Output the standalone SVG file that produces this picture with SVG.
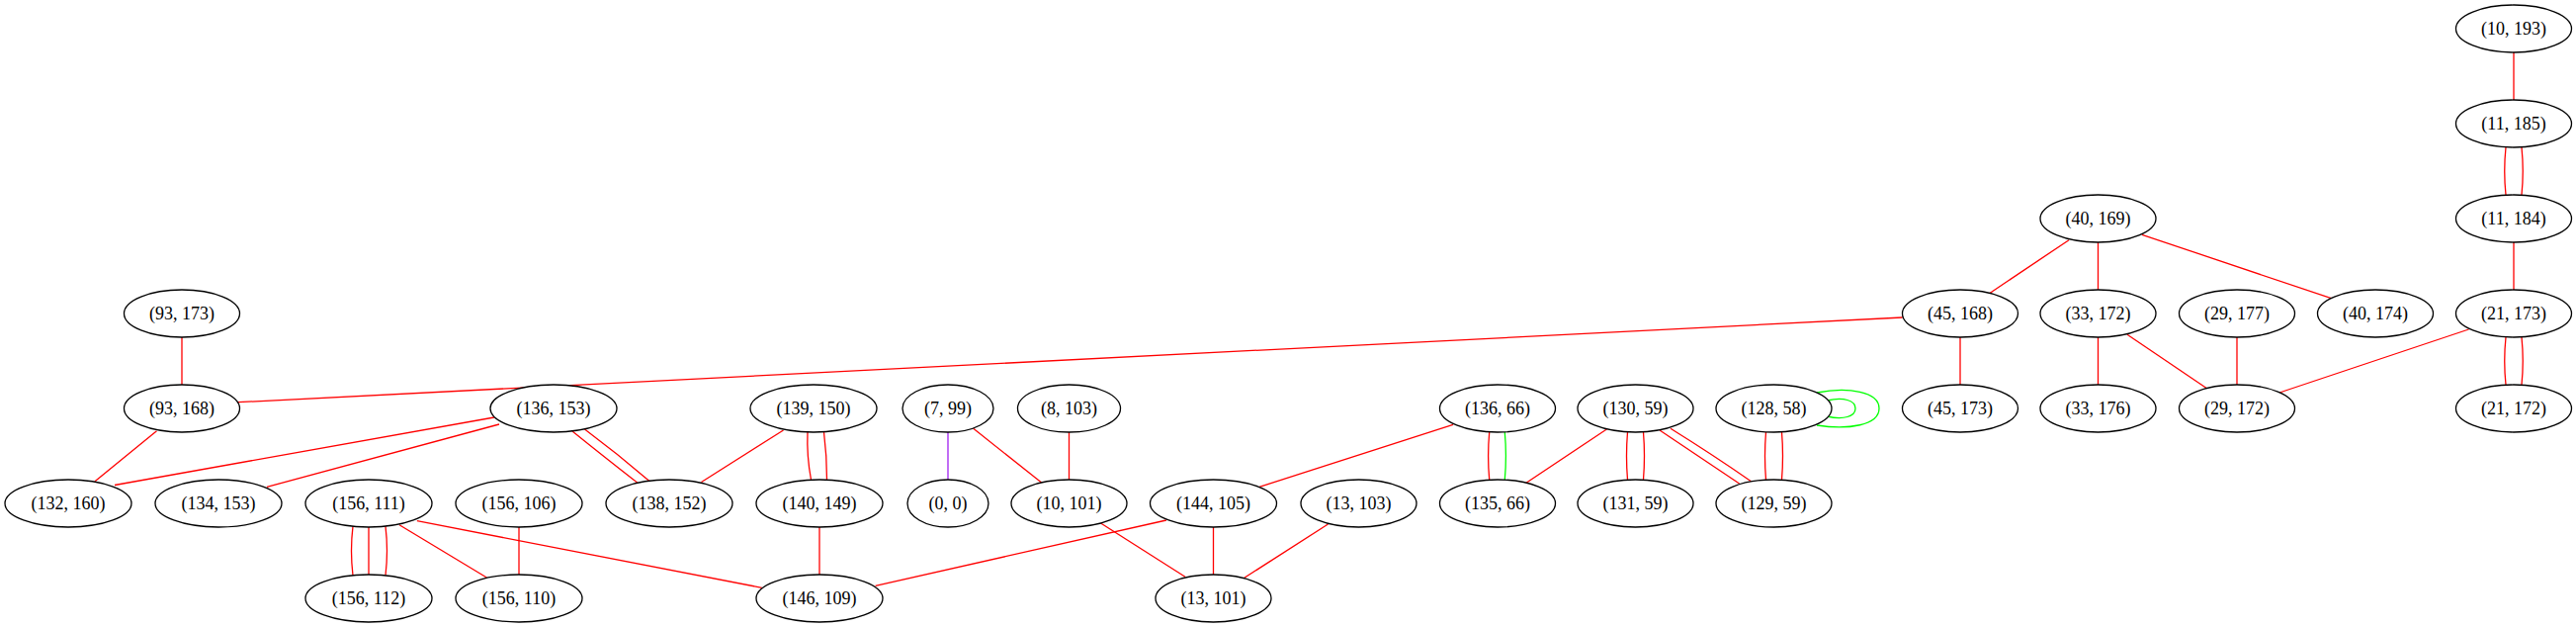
<svg xmlns="http://www.w3.org/2000/svg" width="2606" height="635" viewBox="0 0 2606 635">
<style>
.n ellipse{fill:#fff;stroke:#000;stroke-width:1.3}
.n text{font-family:"Liberation Serif","Times New Roman",serif;font-size:18px;text-anchor:middle;fill:#000}
#edges path{fill:none;stroke-width:1.3}
.r{stroke:#ff0000}
.g{stroke:#00ff00}
.p{stroke:#a020f0}
</style>
<rect width="2606" height="635" fill="#fff"/>
<g id="edges">
<path class="r" d="M2543,53V101"/>
<path class="r" d="M2535,149Q2532.5,173 2535,197"/>
<path class="r" d="M2551,149Q2553.5,173 2551,197"/>
<path class="r" d="M2543,245V293"/>
<path class="r" d="M2535,341Q2532.5,365 2535,389"/>
<path class="r" d="M2551,341Q2553.5,365 2551,389"/>
<path class="r" d="M2497.5,333L2306,397"/>
<path class="r" d="M2093,242.7L2012.5,296.7"/>
<path class="r" d="M2122.5,245V293"/>
<path class="r" d="M2167,237.3L2358.5,301.7"/>
<path class="r" d="M2122.5,341V389"/>
<path class="r" d="M2152,338.3L2232.6,392.7"/>
<path class="r" d="M2263,341V389"/>
<path class="r" d="M1983,341V389"/>
<path class="r" d="M1924.6,321L241,406.7"/>
<path class="r" d="M184,341V389"/>
<path class="r" d="M158.5,435.7L96,486.7"/>
<path class="r" d="M500,422L116,490.5"/>
<path class="r" d="M505,429L270,492.3"/>
<path class="r" d="M579,436Q610,461 645,488.3"/>
<path class="r" d="M591.5,434Q625,459 657.3,486.7"/>
<path class="r" d="M792.5,435L709.5,487.5"/>
<path class="r" d="M817,437Q816,461 820.5,485"/>
<path class="r" d="M833.5,437Q836.5,461 836.5,485"/>
<path class="r" d="M829,533V581"/>
<path class="p" d="M959,437V485"/>
<path class="r" d="M984.7,433.3L1054,488.3"/>
<path class="r" d="M1081.5,437V485"/>
<path class="r" d="M1112.4,528.3L1199,583.3"/>
<path class="r" d="M1227.5,533V581"/>
<path class="r" d="M1343.5,530L1258.8,584.3"/>
<path class="r" d="M1179.9,526L885.6,592.3"/>
<path class="r" d="M1470,429.3L1274,492.3"/>
<path class="r" d="M1506.7,437Q1504.5,461 1506.7,485"/>
<path class="g" d="M1522.3,437Q1524.5,461 1522.3,485"/>
<path class="r" d="M1625.4,434L1544,488.3"/>
<path class="r" d="M1646.5,437Q1644.5,461 1646.5,485"/>
<path class="r" d="M1662.5,437Q1664.5,461 1662.5,485"/>
<path class="r" d="M1679,435L1759.6,489"/>
<path class="r" d="M1690,433.3Q1733,460 1771.5,486.8"/>
<path class="r" d="M1786.5,437Q1784.5,461 1786.5,485"/>
<path class="r" d="M1802.5,437Q1804.5,461 1802.5,485"/>
<path class="g" d="M1838,397C1870,391 1901,396 1901,413C1901,430 1870,435 1838,430"/>
<path class="g" d="M1848.5,405C1865,401 1877,405 1877,413C1877,421 1865,425 1848.5,421"/>
<path class="r" d="M357,532.2Q354,557 357,581.8"/>
<path class="r" d="M373,533V581"/>
<path class="r" d="M390,532.2Q393,557 390,581.8"/>
<path class="r" d="M404,530.7L492.4,584"/>
<path class="r" d="M525,533V581"/>
<path class="r" d="M421.9,526.7L770.8,594.3"/>
</g>
<g id="n_10_193" class="n"><ellipse cx="2543" cy="29" rx="58.5" ry="24"/><text x="2543" y="35">(10, 193)</text></g>
<g id="n_11_185" class="n"><ellipse cx="2543" cy="125" rx="58.5" ry="24"/><text x="2543" y="131">(11, 185)</text></g>
<g id="n_40_169" class="n"><ellipse cx="2122.5" cy="221" rx="58.5" ry="24"/><text x="2122.5" y="227">(40, 169)</text></g>
<g id="n_11_184" class="n"><ellipse cx="2543" cy="221" rx="58.5" ry="24"/><text x="2543" y="227">(11, 184)</text></g>
<g id="n_93_173" class="n"><ellipse cx="184" cy="317" rx="58.5" ry="24"/><text x="184" y="323">(93, 173)</text></g>
<g id="n_45_168" class="n"><ellipse cx="1983" cy="317" rx="58.5" ry="24"/><text x="1983" y="323">(45, 168)</text></g>
<g id="n_33_172" class="n"><ellipse cx="2122.5" cy="317" rx="58.5" ry="24"/><text x="2122.5" y="323">(33, 172)</text></g>
<g id="n_29_177" class="n"><ellipse cx="2263" cy="317" rx="58.5" ry="24"/><text x="2263" y="323">(29, 177)</text></g>
<g id="n_40_174" class="n"><ellipse cx="2403" cy="317" rx="58.5" ry="24"/><text x="2403" y="323">(40, 174)</text></g>
<g id="n_21_173" class="n"><ellipse cx="2543" cy="317" rx="58.5" ry="24"/><text x="2543" y="323">(21, 173)</text></g>
<g id="n_93_168" class="n"><ellipse cx="184" cy="413" rx="58.5" ry="24"/><text x="184" y="419">(93, 168)</text></g>
<g id="n_136_153" class="n"><ellipse cx="560" cy="413" rx="64" ry="24"/><text x="560" y="419">(136, 153)</text></g>
<g id="n_139_150" class="n"><ellipse cx="823" cy="413" rx="64" ry="24"/><text x="823" y="419">(139, 150)</text></g>
<g id="n_7_99" class="n"><ellipse cx="959" cy="413" rx="46" ry="24"/><text x="959" y="419">(7, 99)</text></g>
<g id="n_8_103" class="n"><ellipse cx="1081.5" cy="413" rx="52" ry="24"/><text x="1081.5" y="419">(8, 103)</text></g>
<g id="n_136_66" class="n"><ellipse cx="1515" cy="413" rx="58.5" ry="24"/><text x="1515" y="419">(136, 66)</text></g>
<g id="n_130_59" class="n"><ellipse cx="1654.5" cy="413" rx="58.5" ry="24"/><text x="1654.5" y="419">(130, 59)</text></g>
<g id="n_128_58" class="n"><ellipse cx="1794.5" cy="413" rx="58.5" ry="24"/><text x="1794.5" y="419">(128, 58)</text></g>
<g id="n_45_173" class="n"><ellipse cx="1983" cy="413" rx="58.5" ry="24"/><text x="1983" y="419">(45, 173)</text></g>
<g id="n_33_176" class="n"><ellipse cx="2122.5" cy="413" rx="58.5" ry="24"/><text x="2122.5" y="419">(33, 176)</text></g>
<g id="n_29_172" class="n"><ellipse cx="2263" cy="413" rx="58.5" ry="24"/><text x="2263" y="419">(29, 172)</text></g>
<g id="n_21_172" class="n"><ellipse cx="2543" cy="413" rx="58.5" ry="24"/><text x="2543" y="419">(21, 172)</text></g>
<g id="n_132_160" class="n"><ellipse cx="69" cy="509" rx="64" ry="24"/><text x="69" y="515">(132, 160)</text></g>
<g id="n_134_153" class="n"><ellipse cx="221" cy="509" rx="64" ry="24"/><text x="221" y="515">(134, 153)</text></g>
<g id="n_156_111" class="n"><ellipse cx="373" cy="509" rx="64" ry="24"/><text x="373" y="515">(156, 111)</text></g>
<g id="n_156_106" class="n"><ellipse cx="525" cy="509" rx="64" ry="24"/><text x="525" y="515">(156, 106)</text></g>
<g id="n_138_152" class="n"><ellipse cx="677" cy="509" rx="64" ry="24"/><text x="677" y="515">(138, 152)</text></g>
<g id="n_140_149" class="n"><ellipse cx="829" cy="509" rx="64" ry="24"/><text x="829" y="515">(140, 149)</text></g>
<g id="n_0_0" class="n"><ellipse cx="959" cy="509" rx="41" ry="24"/><text x="959" y="515">(0, 0)</text></g>
<g id="n_10_101" class="n"><ellipse cx="1081.5" cy="509" rx="58.5" ry="24"/><text x="1081.5" y="515">(10, 101)</text></g>
<g id="n_144_105" class="n"><ellipse cx="1227.5" cy="509" rx="64" ry="24"/><text x="1227.5" y="515">(144, 105)</text></g>
<g id="n_13_103" class="n"><ellipse cx="1374.5" cy="509" rx="58.5" ry="24"/><text x="1374.5" y="515">(13, 103)</text></g>
<g id="n_135_66" class="n"><ellipse cx="1515" cy="509" rx="58.5" ry="24"/><text x="1515" y="515">(135, 66)</text></g>
<g id="n_131_59" class="n"><ellipse cx="1654.5" cy="509" rx="58.5" ry="24"/><text x="1654.5" y="515">(131, 59)</text></g>
<g id="n_129_59" class="n"><ellipse cx="1794.5" cy="509" rx="58.5" ry="24"/><text x="1794.5" y="515">(129, 59)</text></g>
<g id="n_156_112" class="n"><ellipse cx="373" cy="605" rx="64" ry="24"/><text x="373" y="611">(156, 112)</text></g>
<g id="n_156_110" class="n"><ellipse cx="525" cy="605" rx="64" ry="24"/><text x="525" y="611">(156, 110)</text></g>
<g id="n_146_109" class="n"><ellipse cx="829" cy="605" rx="64" ry="24"/><text x="829" y="611">(146, 109)</text></g>
<g id="n_13_101" class="n"><ellipse cx="1227.5" cy="605" rx="58.5" ry="24"/><text x="1227.5" y="611">(13, 101)</text></g>
</svg>
